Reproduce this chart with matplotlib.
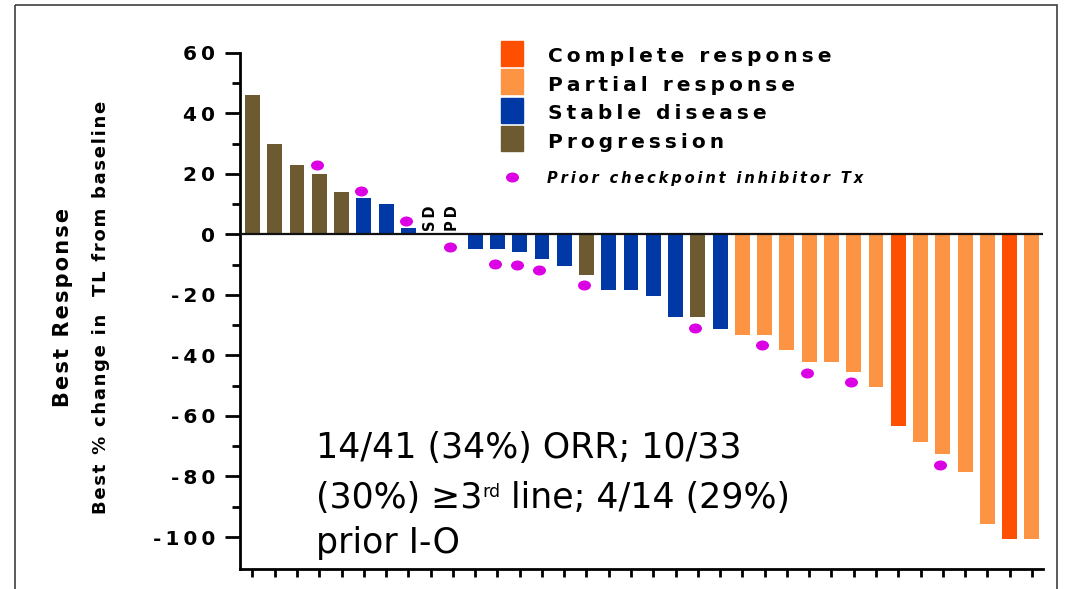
import numpy as np
import matplotlib.pyplot as plt
from matplotlib.markers import MarkerStyle
from matplotlib.transforms import Affine2D
from matplotlib.patches import Rectangle

# best % change in target lesions, one entry per patient (waterfall order)
change = [46, 30, 23, 20, 14, 12, 10, 2, 0, 0,
          -5, -5, -6, -8, -10.4, -13.4, -18.3, -18.3, -20.3, -27.2,
          -27.2, -31.2, -33.1, -33.1, -38.3, -42.3, -42.3, -45.5, -50.3, -63.2,
          -68.5, -72.5, -78.4, -95.6, -100.5, -100.5]
response = ['PD', 'PD', 'PD', 'PD', 'PD', 'SD', 'SD', 'SD', 'SD', 'PD',
            'SD', 'SD', 'SD', 'SD', 'SD', 'PD', 'SD', 'SD', 'SD', 'SD',
            'PD', 'SD', 'PR', 'PR', 'PR', 'PR', 'PR', 'PR', 'PR', 'CR',
            'PR', 'PR', 'PR', 'PR', 'CR', 'PR']

# patients with prior checkpoint inhibitor therapy: bar index and dot height
prior_idx = [3, 5, 7, 9, 11, 12, 13, 15, 20, 23, 25, 27, 31]
prior_y = [22.8, 14.2, 4.4, -4.2, -9.9, -10.1, -11.8, -16.7, -30.8, -36.5,
           -45.8, -48.8, -76.2]

# patients with no change, labelled with their response instead of a bar
zero_idx = [8, 9]
zero_lbl = ['SD', 'PD']

legend_keys = ['CR', 'PR', 'SD', 'PD']
legend_names = ['Complete response', 'Partial response', 'Stable disease', 'Progression']
colors = {'CR': '#ff4f00', 'PR': '#fd9443', 'SD': '#0039a6', 'PD': '#6e5a30'}
dot_color = '#dc00e4'

yticks = [60, 40, 20, 0, -20, -40, -60, -80, -100]
yminor = [50, 30, 10, -10, -30, -50, -70, -90]

note_line1 = '14/41 (34%) ORR; 10/33'
note_line2 = ['(30%) \u22653', 'rd', ' line; 4/14 (29%)']
note_line3 = 'prior I-O'


def spaced(s, sep='\u2009'):
    # the source figure has wide letter spacing
    return sep.join(s)


W, H = 1066, 589
fig = plt.figure(figsize=(W / 100, H / 100), dpi=100)

ax = fig.add_axes([240 / W, 1 - 568.8 / H, (1043 - 240) / W, (568.8 - 52.7) / H])
ax.set_facecolor('none')

x = np.arange(len(change))
ax.bar(x, change, width=0.67, color=[colors[r] for r in response], zorder=2)
ax.axhline(0, color='#111111', lw=1.6, zorder=3)

ellipse = MarkerStyle('o', transform=Affine2D().scale(1.3, 1.0))
ax.plot(np.array(prior_idx) - 0.12, prior_y, ls='none', marker=ellipse,
        ms=7.2, color=dot_color, mec='none', zorder=4)

for i, lbl in zip(zero_idx, zero_lbl):
    ax.text(i, 1.0, spaced(lbl), rotation=90, ha='center', va='bottom',
            fontsize=10.5, fontweight='bold')

ax.set_xlim(-0.56, 35.5)
ax.set_ylim(-110.5, 60)
for side in ['top', 'right']:
    ax.spines[side].set_visible(False)
ax.spines['left'].set_linewidth(2)
ax.spines['bottom'].set_linewidth(2)

ax.set_xticks(x)
ax.set_xticklabels([])
ax.tick_params(axis='x', direction='out', length=6, width=2)
ax.set_yticks(yticks)
ax.set_yticklabels([spaced(str(v)) for v in yticks], fontsize=14.5, fontweight='bold')
ax.set_yticks(yminor, minor=True)
ax.tick_params(axis='y', which='major', direction='out', length=11, width=2, pad=7)
ax.tick_params(axis='y', which='minor', direction='out', length=6, width=2)

# overlay in pixel coordinates for legend, labels and frame
ov = fig.add_axes([0, 0, 1, 1])
ov.set_xlim(0, W)
ov.set_ylim(H, 0)
ov.axis('off')

ov.add_patch(Rectangle((15, 5), 1042, 620, fill=False, ec='#404040', lw=1.2,
                       clip_on=False))

for k, (key, name) in enumerate(zip(legend_keys, legend_names)):
    base = 62.5 + 28.4 * k
    ov.add_patch(Rectangle((501, base - 21.5), 22, 24.7, color=colors[key]))
    ov.text(548, base, spaced(name), fontsize=14.5, fontweight='bold', va='baseline')

ov.plot([512], [177], ls='none', marker=ellipse, ms=7.2, color=dot_color, mec='none')
ov.text(547, 183, spaced('Prior checkpoint inhibitor Tx'), fontsize=10.5,
        fontweight='bold', fontstyle='italic', va='baseline')

ov.text(63, 307, spaced('Best Response', '\u200a'), rotation=90, ha='center',
        va='center', fontsize=15, fontweight='bold')
ov.text(101, 307, spaced('Best % change in  TL from baseline', '\u200a'), rotation=90,
        ha='center', va='center', fontsize=13, fontweight='bold')

ov.text(316, 458, note_line1, fontsize=25, va='baseline')
t1 = ov.text(316, 508, note_line2[0], fontsize=25, va='baseline')
t2 = ov.annotate(note_line2[1], xy=(1, 497), xycoords=(t1, 'data'),
                 fontsize=12.5, va='baseline')
ov.annotate(note_line2[2], xy=(1, 508), xycoords=(t2, 'data'), fontsize=25,
            va='baseline')
ov.text(316, 553, note_line3, fontsize=25, va='baseline')

fig.savefig('out.png', dpi=100)
